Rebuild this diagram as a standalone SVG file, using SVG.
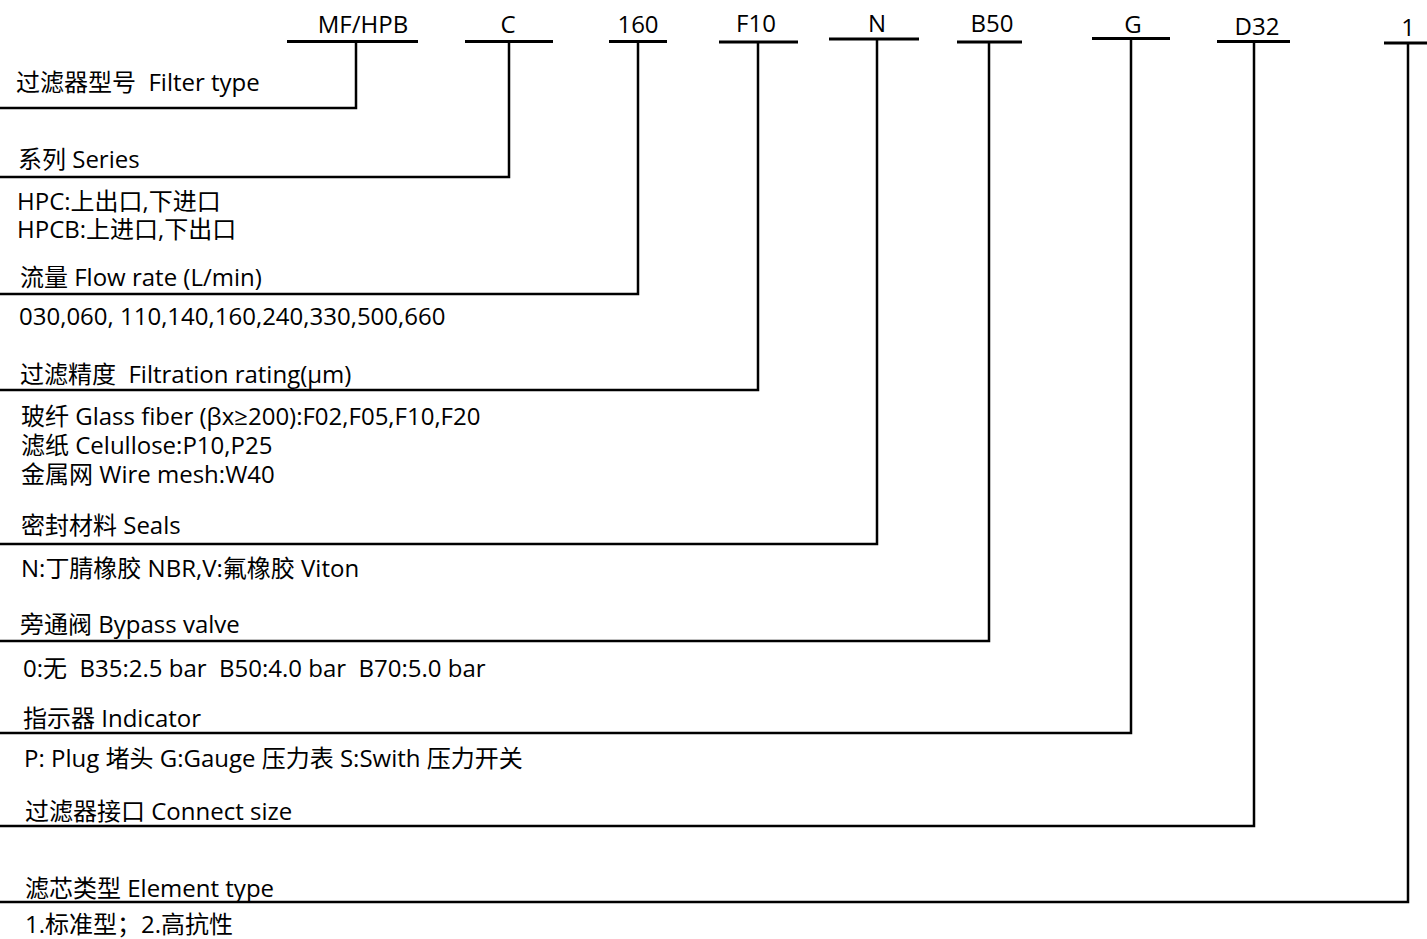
<svg xmlns="http://www.w3.org/2000/svg" width="1427" height="939" viewBox="0 0 1427 939">
<style>
text{font-family:"Open Sans","Noto Sans CJK SC",sans-serif;font-size:24px;fill:#000;white-space:pre}
.c{text-anchor:middle}
.ln{stroke:#000;stroke-width:2.5;fill:none}
.hd{stroke:#000;stroke-width:3;fill:none}
</style>
<rect width="1427" height="939" fill="#fff"/>
<g id="connectors">
<path class="ln" d="M0 108H356V42"/>
<path class="ln" d="M0 177H509V42"/>
<path class="ln" d="M0 294H638V42"/>
<path class="ln" d="M0 390H758V42"/>
<path class="ln" d="M0 544H877V39"/>
<path class="ln" d="M0 641H989V42"/>
<path class="ln" d="M0 733H1131V38"/>
<path class="ln" d="M0 826H1254V42"/>
<path class="ln" d="M0 902H1408V43"/>
</g>
<g id="code-mfhpb"><line class="hd" x1="287" y1="41.5" x2="418" y2="41.5"/><text class="c" x="363" y="33">MF/HPB</text></g>
<g id="code-c"><line class="hd" x1="465" y1="41.5" x2="553" y2="41.5"/><text class="c" x="508" y="33">C</text></g>
<g id="code-160"><line class="hd" x1="609" y1="41.5" x2="667" y2="41.5"/><text class="c" x="638" y="33">160</text></g>
<g id="code-f10"><line class="hd" x1="719" y1="42" x2="798" y2="42"/><text class="c" x="756" y="32">F10</text></g>
<g id="code-n"><line class="hd" x1="829" y1="39" x2="919" y2="39"/><text class="c" x="877" y="32">N</text></g>
<g id="code-b50"><line class="hd" x1="957" y1="42" x2="1022" y2="42"/><text class="c" x="992" y="32">B50</text></g>
<g id="code-g"><line class="hd" x1="1092" y1="38.5" x2="1170" y2="38.5"/><text class="c" x="1133" y="33">G</text></g>
<g id="code-d32"><line class="hd" x1="1217" y1="41.5" x2="1290" y2="41.5"/><text class="c" x="1257" y="35">D32</text></g>
<g id="code-1"><line class="hd" x1="1384" y1="43" x2="1427" y2="43"/><text class="c" x="1408" y="36">1</text></g>
<g id="filter-type"><text x="16" y="91">过滤器型号  Filter type</text></g>
<g id="series"><text x="18" y="168">系列 Series</text>
<text x="17" y="210">HPC:上出口,下进口</text>
<text x="17" y="238">HPCB:上进口,下出口</text></g>
<g id="flow-rate"><text x="20" y="286">流量 Flow rate (L/min)</text>
<text x="19" y="325">030,060, 110,140,160,240,330,500,660</text></g>
<g id="filtration"><text x="20" y="383">过滤精度  Filtration rating(μm)</text>
<text x="21" y="425">玻纤 Glass fiber (βx≥200):F02,F05,F10,F20</text>
<text x="21" y="454">滤纸 Celullose:P10,P25</text>
<text x="21" y="483">金属网 Wire mesh:W40</text></g>
<g id="seals"><text x="21" y="534">密封材料 Seals</text>
<text x="21" y="577">N:丁腈橡胶 NBR,V:氟橡胶 Viton</text></g>
<g id="bypass"><text x="20" y="633">旁通阀 Bypass valve</text>
<text x="23" y="677">0:无  B35:2.5 bar  B50:4.0 bar  B70:5.0 bar</text></g>
<g id="indicator"><text x="23" y="727">指示器 Indicator</text>
<text x="24" y="767">P: Plug 堵头 G:Gauge 压力表 S:Swith 压力开关</text></g>
<g id="connect"><text x="25" y="820">过滤器接口 Connect size</text></g>
<g id="element"><text x="25" y="897">滤芯类型 Element type</text>
<text x="25" y="933">1.标准型；2.高抗性</text></g>
</svg>
